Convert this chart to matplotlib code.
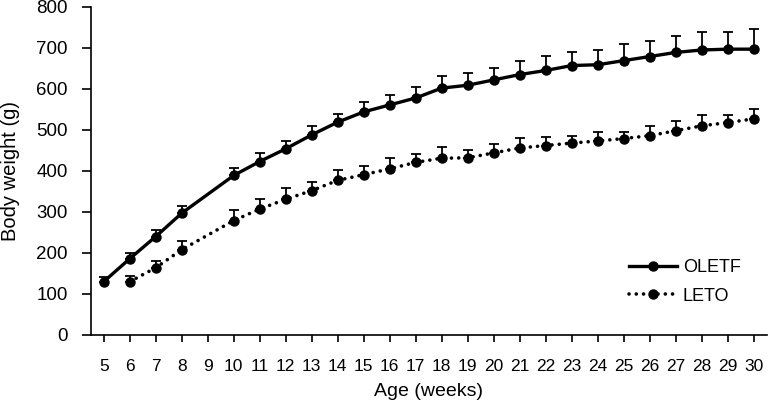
import numpy as np
import matplotlib
matplotlib.use('Agg')
import matplotlib.pyplot as plt

plt.rcParams['font.family'] = ['Liberation Sans', 'DejaVu Sans']

# Body weight (g), mean and upper SD
oletf_weeks = [5, 6, 7, 8, 10, 11, 12, 13, 14, 15, 16, 17, 18, 19, 20, 21, 22,
               23, 24, 25, 26, 27, 28, 29, 30]
oletf_mean = [130, 186, 240, 297, 389, 423, 454, 488, 519, 544, 561, 578, 602,
              609, 622, 635, 645, 657, 659, 669, 679, 689, 695, 697, 697]
oletf_err = [12, 14, 16, 18, 19, 20, 20, 22, 21, 25, 25, 27, 29, 30, 30, 33,
             36, 33, 37, 40, 39, 41, 44, 43, 48]

leto_weeks = [6, 7, 8, 10, 11, 12, 13, 14, 15, 16, 17, 18, 19, 20, 21, 22,
              23, 24, 25, 26, 27, 28, 29, 30]
leto_mean = [130, 164, 208, 279, 307, 331, 352, 377, 391, 405, 421, 431, 432,
             444, 456, 462, 468, 473, 479, 486, 498, 510, 518, 527]
leto_err = [14, 17, 20, 25, 24, 27, 21, 25, 22, 27, 20, 27, 20, 21, 24, 21,
            17, 21, 16, 24, 25, 27, 19, 23]

week_ticks = list(range(5, 31))

fig = plt.figure(figsize=(7.69, 4.07), dpi=100)
ax = fig.add_axes([0.118, 0.177, 0.879, 0.806])

# upper error bars only
ax.errorbar(oletf_weeks, oletf_mean, yerr=[np.zeros(len(oletf_err)), oletf_err],
            fmt='none', ecolor='black', elinewidth=1.3, capsize=3.5, capthick=1.3)
ax.errorbar(leto_weeks, leto_mean, yerr=[np.zeros(len(leto_err)), leto_err],
            fmt='none', ecolor='black', elinewidth=1.3, capsize=3.5, capthick=1.3)

ax.plot(oletf_weeks, oletf_mean, color='black', linewidth=2.4, marker='o',
        markersize=6.5, label='OLETF')
ax.plot(leto_weeks, leto_mean, color='black', linewidth=2.6, linestyle=(0, (0.01, 2.0)),
        dash_capstyle='round', marker='o', markersize=6.5, label='LETO')

ax.set_xlim(4.5, 30.5)
ax.set_ylim(0, 800)
ax.set_xticks(week_ticks)
ax.set_xticklabels([str(w) for w in week_ticks])
ax.set_yticks(range(0, 801, 100))
ax.tick_params(axis='both', width=1.2, direction='out')
ax.tick_params(axis='x', labelsize=12.5, length=5, pad=12)
ax.tick_params(axis='y', labelsize=13.5, length=6.5, pad=10)

for side in ['top', 'right']:
    ax.spines[side].set_visible(False)
for side in ['left', 'bottom']:
    ax.spines[side].set_linewidth(1.2)

ax.set_xlabel('Age (weeks)', fontsize=14, labelpad=7)
ax.set_ylabel('Body weight (g)', fontsize=14.5, labelpad=12)

ax.legend(loc='lower right', bbox_to_anchor=(0.975, 0.065), frameon=False, fontsize=13,
          handlelength=2.7, handletextpad=0.3, labelspacing=0.65, borderpad=0)

fig.savefig('out.png', dpi=100)
